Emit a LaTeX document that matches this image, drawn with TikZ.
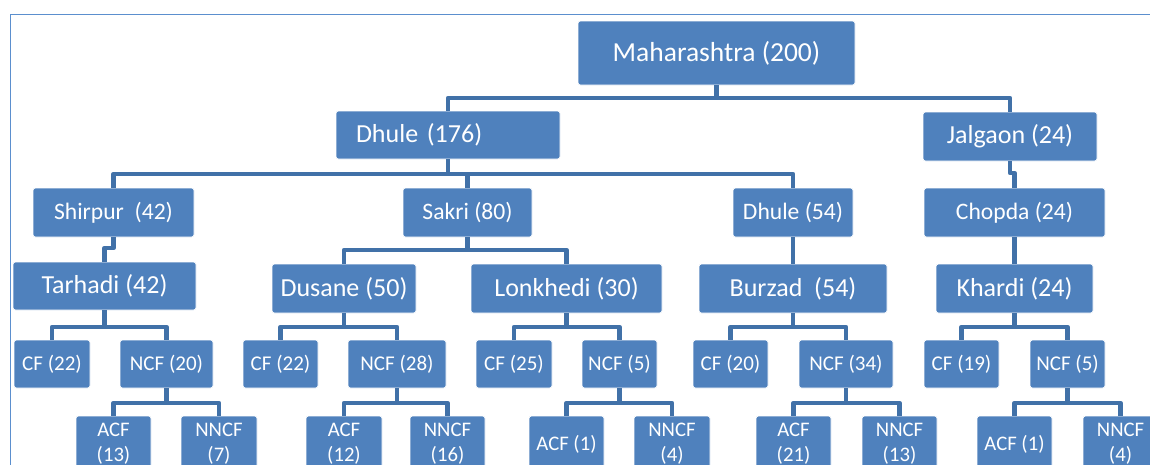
\documentclass[tikz,border=0pt]{standalone}
\usepackage{fontspec}
\setmainfont{Carlito}
\definecolor{boxblue}{RGB}{79,129,189}
\definecolor{connblue}{RGB}{65,113,168}
\definecolor{framebl}{RGB}{91,143,206}
\tikzset{
  box/.style={fill=boxblue, draw=white, line width=0.6pt, rounded corners=2.5pt,
    text=white, inner sep=0pt, align=center},
  conn/.style={draw=connblue, line width=4.5pt, line join=round},
  lA/.style={font=\fontsize{27.5}{33}\selectfont},
  lB/.style={font=\fontsize{26}{31}\selectfont},
  lC/.style={font=\fontsize{23.6}{28}\selectfont},
  lD/.style={font=\fontsize{26}{31}\selectfont},
  lE/.style={font=\fontsize{21}{25}\selectfont},
  lF/.style={font=\fontsize{20.7}{25}\selectfont},
}
\newcommand{\mkbox}[6]{\node[box,#6,minimum width={(#4)-(#2)},minimum height={(#5)-(#3)}] (#1) at ({((#2)+(#4))/2},{((#3)+(#5))/2})}
\begin{document}
\begin{tikzpicture}[x=1pt,y=-1pt]
\useasboundingbox (0,0) rectangle (1150,464);
\clip (0,0) rectangle (1150,464);
\fill[white] (0,0) rectangle (1150,464);
\draw[framebl, line width=1.4pt] (10.7,600) -- (10.7,14.7) -- (1300,14.7);

% level 1-2
\mkbox{mah}{578}{21}{855}{85}{lA} {Maharashtra (200)};
\mkbox{dha}{336}{111}{560}{159}{lB,text width=184pt,align=left} {Dhule (176)};
\mkbox{jal}{923}{112}{1097}{161}{lB} {Jalgaon (24)};
% level 3
\mkbox{shi}{33}{188}{194}{237}{lC} {Shirpur\ \ (42)};
\mkbox{sak}{403}{188}{532}{237}{lC} {Sakri (80)};
\mkbox{dhb}{733}{188}{853}{237}{lC} {Dhule (54)};
\mkbox{cho}{924}{188}{1105}{237}{lC} {Chopda (24)};
% level 4
\mkbox{tar}{13}{262}{196}{310}{lD} {Tarhadi (42)};
\mkbox{dus}{272}{264}{416}{313}{lD} {Dusane (50)};
\mkbox{lon}{471}{264}{662}{313}{lD} {Lonkhedi (30)};
\mkbox{bur}{699}{264}{887}{313}{lD} {Burzad\ \ (54)};
\mkbox{kha}{936}{264}{1093}{313}{lD} {Khardi (24)};
% level 5
\mkbox{cfa}{14}{340}{90}{388}{lE} {CF (22)};
\mkbox{nca}{120}{340}{213}{388}{lE} {NCF (20)};
\mkbox{cfb}{243}{340}{318}{388}{lE} {CF (22)};
\mkbox{ncb}{348}{340}{446}{388}{lE} {NCF (28)};
\mkbox{cfc}{476}{340}{552}{388}{lE} {CF (25)};
\mkbox{ncc}{582}{340}{657}{388}{lE} {NCF (5)};
\mkbox{cfd}{693}{340}{768}{388}{lE} {CF (20)};
\mkbox{ncd}{799}{340}{893}{388}{lE} {NCF (34)};
\mkbox{cfe}{924}{340}{999}{388}{lE} {CF (19)};
\mkbox{nce}{1030}{340}{1105}{388}{lE} {NCF (5)};
% level 6
\mkbox{aa}{76}{416}{151}{472}{lF} {ACF\\(13)};
\mkbox{na}{181}{416}{257}{472}{lF} {NNCF\\(7)};
\mkbox{ab}{306}{416}{382}{472}{lF} {ACF\\(12)};
\mkbox{nb}{410}{416}{485}{472}{lF} {NNCF\\(16)};
\mkbox{ac}{529}{416}{604}{472}{lF} {ACF (1)};
\mkbox{nc}{634}{416}{710}{472}{lF} {NNCF\\(4)};
\mkbox{ad}{756}{416}{831}{472}{lF} {ACF\\(21)};
\mkbox{nd}{862}{416}{937}{472}{lF} {NNCF\\(13)};
\mkbox{ae}{977}{416}{1052}{472}{lF} {ACF (1)};
\mkbox{ne}{1083}{416}{1158}{472}{lF} {NNCF\\(4)};

% bar levels
\coordinate (B1) at (0,98);
\coordinate (B2) at (0,174);
\coordinate (BJ) at (0,173);
\coordinate (BS) at (0,248);
\coordinate (B3) at (0,250);
\coordinate (B4) at (0,327);
\coordinate (B5) at (0,403);

% connectors
\draw[conn] (mah.south) -- (mah.south |- B1);
\draw[conn] (dha.north) -- (dha.north |- B1) -- (jal.north |- B1) -- (jal.north);

\draw[conn] (dha.south) -- (dha.south |- B2);
\draw[conn] (shi.north) -- (shi.north |- B2) -- (dhb.north |- B2) -- (dhb.north);
\draw[conn] (sak.north) -- (sak.north |- B2);
\draw[conn] (jal.south) -- (jal.south |- BJ) -- (cho.north |- BJ) -- (cho.north);

\draw[conn] (shi.south) -- (shi.south |- BS) -- (tar.north |- BS) -- (tar.north);
\draw[conn] (sak.south) -- (sak.south |- B3);
\draw[conn] (dus.north) -- (dus.north |- B3) -- (lon.north |- B3) -- (lon.north);
\draw[conn] (dhb.south) -- (bur.north);
\draw[conn] (cho.south) -- (kha.north);

\foreach \p/\a/\b in {tar/cfa/nca, dus/cfb/ncb, lon/cfc/ncc, bur/cfd/ncd, kha/cfe/nce}{
  \draw[conn] (\p.south) -- (\p.south |- B4);
  \draw[conn] (\a.north) -- (\a.north |- B4) -- (\b.north |- B4) -- (\b.north);
}
\foreach \p/\a/\b in {nca/aa/na, ncb/ab/nb, ncc/ac/nc, ncd/ad/nd, nce/ae/ne}{
  \draw[conn] (\p.south) -- (\p.south |- B5);
  \draw[conn] (\a.north) -- (\a.north |- B5) -- (\b.north |- B5) -- (\b.north);
}
\end{tikzpicture}
\end{document}
